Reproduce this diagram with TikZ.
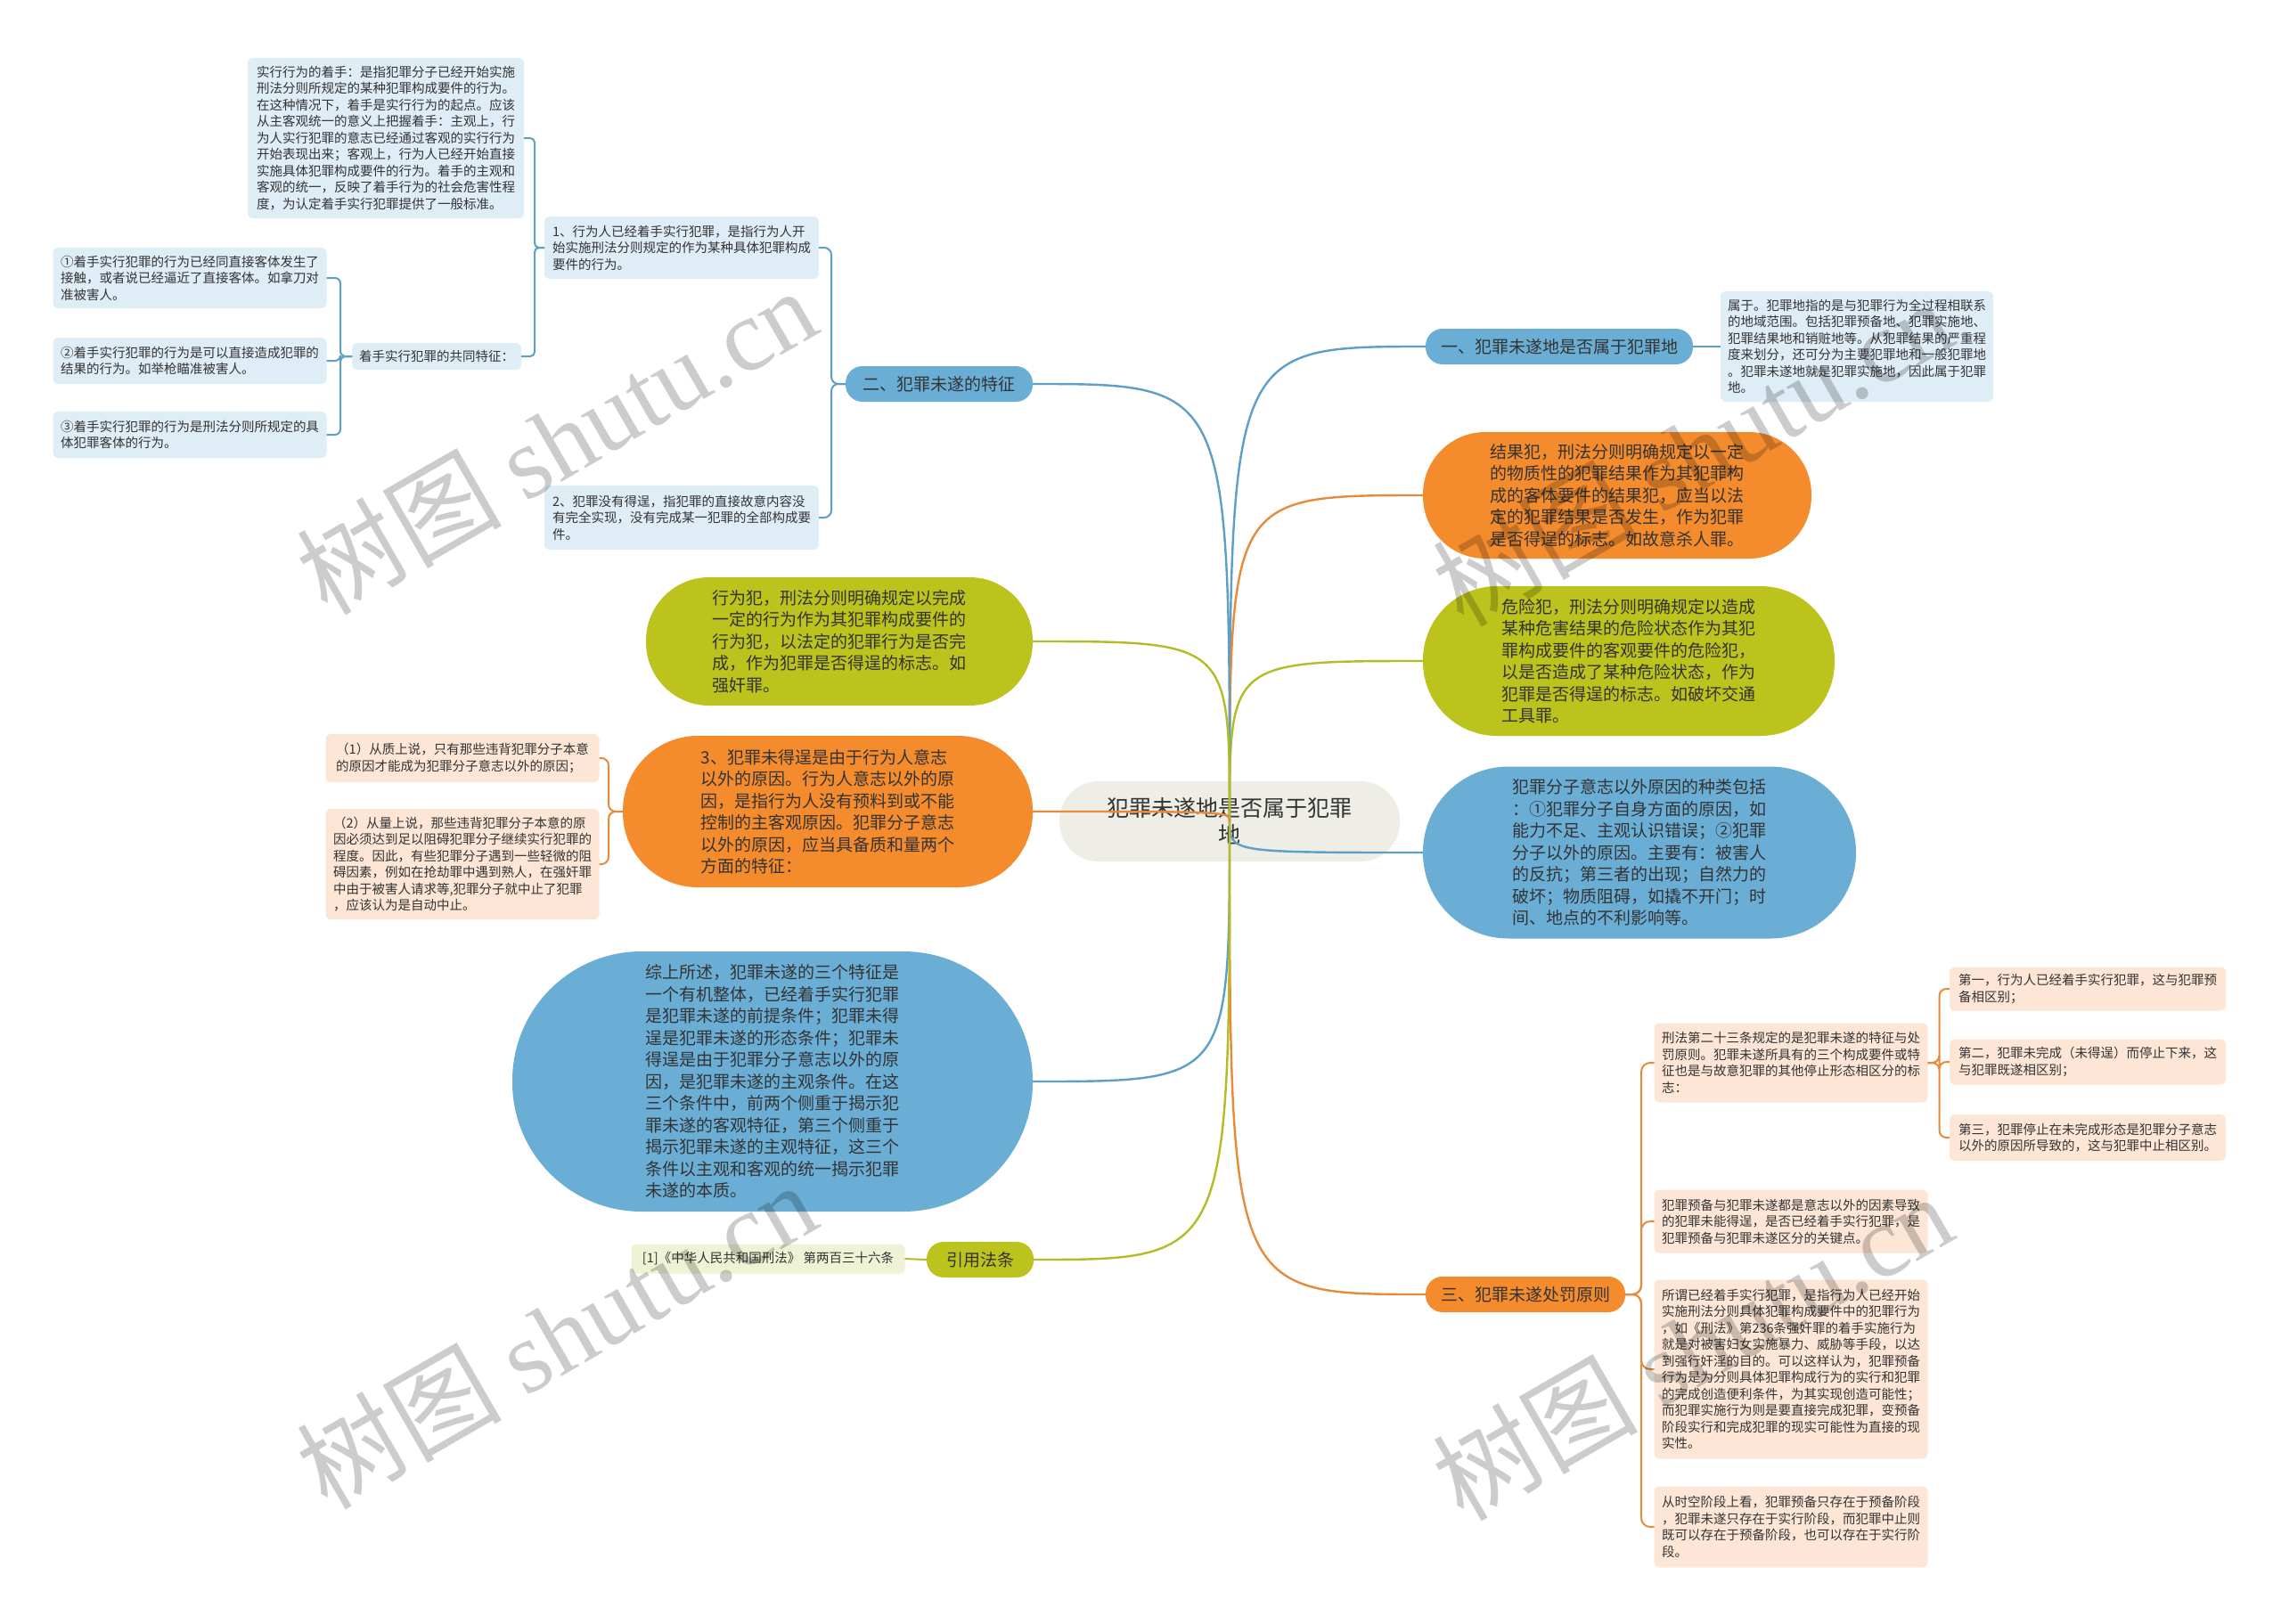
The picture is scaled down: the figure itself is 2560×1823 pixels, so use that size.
\documentclass[tikz,border=0pt]{standalone}
\usepackage{fontspec}
\setmainfont{Noto Sans CJK SC}
\newfontfamily\wmlatin{Liberation Serif}
\definecolor{bluefill}{HTML}{6BAED5}
\definecolor{blueline}{HTML}{5D9FC6}
\definecolor{orangefill}{HTML}{F48B2D}
\definecolor{orangeline}{HTML}{E88A3C}
\definecolor{greenfill}{HTML}{BCC31C}
\definecolor{greenline}{HTML}{B3BC25}
\definecolor{lblue}{HTML}{DFEDF6}
\definecolor{lorange}{HTML}{FDE6D6}
\definecolor{lgreen}{HTML}{EFF2D5}
\definecolor{centerfill}{HTML}{EFEEE6}
\definecolor{txt}{HTML}{333333}
\begin{document}
\begin{tikzpicture}[x=1pt,y=-1pt,
  every node/.style={text=txt, inner sep=0pt, outer sep=0pt},
  sm/.style={font=\fontsize{14.5pt}{18.5pt}\selectfont, rounded corners=6pt, align=left},
  sblue/.style={sm, fill=lblue},
  sorange/.style={sm, fill=lorange},
  sgreen/.style={sm, fill=lgreen},
  bigt/.style={font=\fontsize{19pt}{24.5pt}\selectfont, align=left},
  lab/.style={font=\fontsize{19pt}{23pt}\selectfont, align=center},
  mainline/.style={line width=2.4pt},
  subline/.style={line width=2pt},
  wm/.style={font=\fontsize{115pt}{115pt}\selectfont, text=black, text opacity=0.2, rotate=30, anchor=base}
]
\useasboundingbox (0,0) rectangle (2560,1823);
\fill[white] (0,0) rectangle (2560,1823);

% center
\node[fill=centerfill, rounded corners=44pt, minimum width=382pt, minimum height=90pt,
      font=\fontsize{25pt}{30pt}\selectfont, align=center] (c) at (1380,922) {犯罪未遂地是否属于犯罪\\地};

% right side
\node[fill=bluefill, rounded corners=19pt, minimum width=300pt, minimum height=40pt, lab] (b1) at (1750,389) {一、犯罪未遂地是否属于犯罪地};
\node[sblue, minimum width=306pt, minimum height=124pt] (b1c) at (2084,389) {属于。犯罪地指的是与犯罪行为全过程相联系\\的地域范围。包括犯罪预备地、犯罪实施地、\\犯罪结果地和销赃地等。从犯罪结果的严重程\\度来划分，还可分为主要犯罪地和一般犯罪地\\。犯罪未遂地就是犯罪实施地，因此属于犯罪\\地。};

\node[fill=orangefill, rounded corners=70pt, minimum width=436pt, minimum height=142pt, bigt] (r1) at (1815,556) {结果犯，刑法分则明确规定以一定\\的物质性的犯罪结果作为其犯罪构\\成的客体要件的结果犯，应当以法\\定的犯罪结果是否发生，作为犯罪\\是否得逞的标志。如故意杀人罪。};
\node[fill=greenfill, rounded corners=83pt, minimum width=462pt, minimum height=168pt, bigt] (r2) at (1828,742) {危险犯，刑法分则明确规定以造成\\某种危害结果的危险状态作为其犯\\罪构成要件的客观要件的危险犯，\\以是否造成了某种危险状态，作为\\犯罪是否得逞的标志。如破坏交通\\工具罪。};
\node[fill=bluefill, rounded corners=96pt, minimum width=486pt, minimum height=193pt, bigt] (r3) at (1840,957) {犯罪分子意志以外原因的种类包括\\：①犯罪分子自身方面的原因，如\\能力不足、主观认识错误；②犯罪\\分子以外的原因。主要有：被害人\\的反抗；第三者的出现；自然力的\\破坏；物质阻碍，如撬不开门；时\\间、地点的不利影响等。};

\node[fill=orangefill, rounded corners=19pt, minimum width=224pt, minimum height=40pt, lab] (b3) at (1712,1453) {三、犯罪未遂处罚原则};
\node[sorange, minimum width=307pt, minimum height=89pt] (b3a) at (2010,1193) {刑法第二十三条规定的是犯罪未遂的特征与处\\罚原则。犯罪未遂所具有的三个构成要件或特\\征也是与故意犯罪的其他停止形态相区分的标\\志：};
\node[sorange, minimum width=307pt, minimum height=71pt] (b3b) at (2010,1371) {犯罪预备与犯罪未遂都是意志以外的因素导致\\的犯罪未能得逞，是否已经着手实行犯罪，是\\犯罪预备与犯罪未遂区分的关键点。};
\node[sorange, minimum width=307pt, minimum height=201pt] (b3c) at (2010,1537) {所谓已经着手实行犯罪，是指行为人已经开始\\实施刑法分则具体犯罪构成要件中的犯罪行为\\，如《刑法》第236条强奸罪的着手实施行为\\就是对被害妇女实施暴力、威胁等手段，以达\\到强行奸淫的目的。可以这样认为，犯罪预备\\行为是为分则具体犯罪构成行为的实行和犯罪\\的完成创造便利条件，为其实现创造可能性；\\而犯罪实施行为则是要直接完成犯罪，变预备\\阶段实行和完成犯罪的现实可能性为直接的现\\实性。};
\node[sorange, minimum width=307pt, minimum height=91pt] (b3d) at (2010,1714) {从时空阶段上看，犯罪预备只存在于预备阶段\\，犯罪未遂只存在于实行阶段，而犯罪中止则\\既可以存在于预备阶段，也可以存在于实行阶\\段。};
\node[sorange, minimum width=310pt, minimum height=49pt] (s1) at (2343,1110) {第一，行为人已经着手实行犯罪，这与犯罪预\\备相区别；};
\node[sorange, minimum width=310pt, minimum height=51pt] (s2) at (2343,1192) {第二，犯罪未完成（未得逞）而停止下来，这\\与犯罪既遂相区别；};
\node[sorange, minimum width=310pt, minimum height=52pt] (s3) at (2343,1277) {第三，犯罪停止在未完成形态是犯罪分子意志\\以外的原因所导致的，这与犯罪中止相区别。};

% left side
\node[fill=bluefill, rounded corners=19pt, minimum width=210pt, minimum height=40pt, lab] (b2) at (1054,431) {二、犯罪未遂的特征};
\node[sblue, minimum width=308pt, minimum height=70pt] (b2a) at (765,278) {1、行为人已经着手实行犯罪，是指行为人开\\始实施刑法分则规定的作为某种具体犯罪构成\\要件的行为。};
\node[sblue, minimum width=308pt, minimum height=72pt] (b2b) at (765,581) {2、犯罪没有得逞，指犯罪的直接故意内容没\\有完全实现，没有完成某一犯罪的全部构成要\\件。};
\node[sblue, minimum width=310pt, minimum height=180pt] (a1) at (433,155) {实行行为的着手：是指犯罪分子已经开始实施\\刑法分则所规定的某种犯罪构成要件的行为。\\在这种情况下，着手是实行行为的起点。应该\\从主客观统一的意义上把握着手：主观上，行\\为人实行犯罪的意志已经通过客观的实行行为\\开始表现出来；客观上，行为人已经开始直接\\实施具体犯罪构成要件的行为。着手的主观和\\客观的统一，反映了着手行为的社会危害性程\\度，为认定着手实行犯罪提供了一般标准。};
\node[sblue, minimum width=190pt, minimum height=30pt] (a2) at (490,400) {着手实行犯罪的共同特征：};
\node[sblue, minimum width=307pt, minimum height=68pt] (k1) at (213,312) {①着手实行犯罪的行为已经同直接客体发生了\\接触，或者说已经逼近了直接客体。如拿刀对\\准被害人。};
\node[sblue, minimum width=307pt, minimum height=52pt] (k2) at (213,405) {②着手实行犯罪的行为是可以直接造成犯罪的\\结果的行为。如举枪瞄准被害人。};
\node[sblue, minimum width=307pt, minimum height=52pt] (k3) at (213,488) {③着手实行犯罪的行为是刑法分则所规定的具\\体犯罪客体的行为。};

\node[fill=greenfill, rounded corners=71pt, minimum width=434pt, minimum height=144pt, bigt] (l1) at (942,720) {行为犯，刑法分则明确规定以完成\\一定的行为作为其犯罪构成要件的\\行为犯，以法定的犯罪行为是否完\\成，作为犯罪是否得逞的标志。如\\强奸罪。};
\node[fill=orangefill, rounded corners=84pt, minimum width=460pt, minimum height=170pt, bigt] (l2) at (929,911) {3、犯罪未得逞是由于行为人意志\\以外的原因。行为人意志以外的原\\因，是指行为人没有预料到或不能\\控制的主客观原因。犯罪分子意志\\以外的原因，应当具备质和量两个\\方面的特征：};
\node[sorange, minimum width=307pt, minimum height=54pt] (l2a) at (519,851) {（1）从质上说，只有那些违背犯罪分子本意\\的原因才能成为犯罪分子意志以外的原因；};
\node[sorange, minimum width=307pt, minimum height=124pt] (l2b) at (519,970) {（2）从量上说，那些违背犯罪分子本意的原\\因必须达到足以阻碍犯罪分子继续实行犯罪的\\程度。因此，有些犯罪分子遇到一些轻微的阻\\碍因素，例如在抢劫罪中遇到熟人，在强奸罪\\中由于被害人请求等,犯罪分子就中止了犯罪\\，应该认为是自动中止。};
\node[fill=bluefill, rounded corners=145pt, minimum width=584pt, minimum height=292pt, bigt] (l3) at (867,1214) {综上所述，犯罪未遂的三个特征是\\一个有机整体，已经着手实行犯罪\\是犯罪未遂的前提条件；犯罪未得\\逞是犯罪未遂的形态条件；犯罪未\\得逞是由于犯罪分子意志以外的原\\因，是犯罪未遂的主观条件。在这\\三个条件中，前两个侧重于揭示犯\\罪未遂的客观特征，第三个侧重于\\揭示犯罪未遂的主观特征，这三个\\条件以主观和客观的统一揭示犯罪\\未遂的本质。};
\node[fill=greenfill, rounded corners=19pt, minimum width=120pt, minimum height=40pt, lab] (l4) at (1100,1414) {引用法条};
\node[sgreen, minimum width=307pt, minimum height=33pt] (l4c) at (862,1413) {[1]《中华人民共和国刑法》 第两百三十六条};

% main connectors
\draw[mainline, blueline] (c.center) .. controls (c.center |- b1.west) .. (b1.west);
\draw[mainline, orangeline] (c.center) .. controls (c.center |- r1.west) .. (r1.west);
\draw[mainline, greenline] (c.center) .. controls (c.center |- r2.west) .. (r2.west);
\draw[mainline, blueline] (c.center) .. controls (c.center |- r3.west) .. (r3.west);
\draw[mainline, orangeline] (c.center) .. controls (c.center |- b3.west) .. (b3.west);
\draw[mainline, blueline] (c.center) .. controls (c.center |- b2.east) .. (b2.east);
\draw[mainline, greenline] (c.center) .. controls (c.center |- l1.east) .. (l1.east);
\draw[mainline, orangeline] (c.center) .. controls (c.center |- l2.east) .. (l2.east);
\draw[mainline, blueline] (c.center) .. controls (c.center |- l3.east) .. (l3.east);
\draw[mainline, greenline] (c.center) .. controls (c.center |- l4.east) .. (l4.east);

% sub connectors
\draw[subline, blueline] (b1.east) -- (b1c.west);
\draw[subline, blueline, rounded corners=8pt] (b2.west) -- ++(-16,0) |- (b2a.east);
\draw[subline, blueline, rounded corners=8pt] (b2.west) -- ++(-16,0) |- (b2b.east);
\draw[subline, blueline, rounded corners=5pt] (b2a.west) -- ++(-11,0) |- (a1.east);
\draw[subline, blueline, rounded corners=5pt] (b2a.west) -- ++(-11,0) |- (a2.east);
\draw[subline, blueline, rounded corners=6pt] (a2.west) -- ++(-13,0) |- (k1.east);
\draw[subline, blueline, rounded corners=6pt] (a2.west) -- ++(-13,0) |- (k2.east);
\draw[subline, blueline, rounded corners=6pt] (a2.west) -- ++(-13,0) |- (k3.east);
\draw[subline, orangeline, rounded corners=8pt] (l2.west) -- ++(-16,0) |- (l2a.east);
\draw[subline, orangeline, rounded corners=8pt] (l2.west) -- ++(-16,0) |- (l2b.east);
\draw[subline, greenline] (l4.west) -- (l4c.east);
\draw[subline, orangeline, rounded corners=10pt] (b3.east) -- ++(18,0) |- (b3a.west);
\draw[subline, orangeline, rounded corners=10pt] (b3.east) -- ++(18,0) |- (b3b.west);
\draw[subline, orangeline, rounded corners=10pt] (b3.east) -- ++(18,0) |- (b3c.west);
\draw[subline, orangeline, rounded corners=10pt] (b3.east) -- ++(18,0) |- (b3d.west);
\draw[subline, orangeline, rounded corners=8pt] (b3a.east) -- ++(13,0) |- (s1.west);
\draw[subline, orangeline, rounded corners=8pt] (b3a.east) -- ++(13,0) |- (s2.west);
\draw[subline, orangeline, rounded corners=8pt] (b3a.east) -- ++(13,0) |- (s3.west);

% watermarks
\node[wm] (w1) at (646,532) {树图 {\wmlatin shutu.cn}};
\node[wm] (w2) at (646,1536) {树图 {\wmlatin shutu.cn}};
\node[wm] (w3) at (1921,545) {树图 {\wmlatin shutu.cn}};
\node[wm] (w4) at (1921,1549) {树图 {\wmlatin shutu.cn}};
\end{tikzpicture}
\end{document}
